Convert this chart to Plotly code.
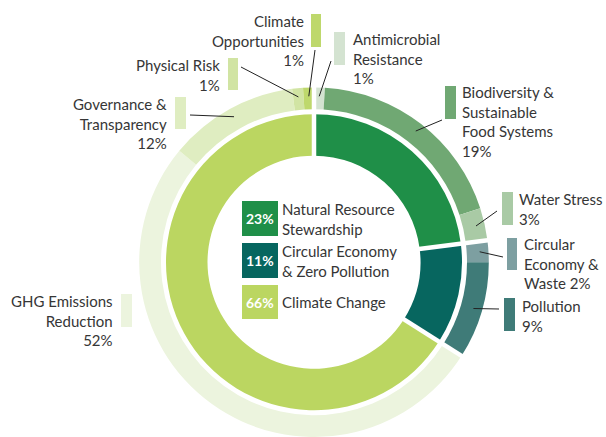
import math
import plotly.graph_objects as go

# ---------------- data ----------------
inner_labels = ["Natural Resource<br>Stewardship", "Circular Economy<br>& Zero Pollution", "Climate Change"]
inner_values = [23, 11, 66]
inner_colors = ["#1f8f48", "#07665f", "#bbd661"]

outer_labels = ["Antimicrobial<br>Resistance<br>", "Biodiversity &<br>Sustainable<br>Food Systems<br>",
                "Water Stress<br>", "Circular<br>Economy &<br>Waste ", "Pollution<br>",
                "GHG Emissions<br>Reduction<br>", "Governance &<br>Transparency<br>",
                "Physical Risk<br>", "Climate<br>Opportunities<br>"]
outer_values = [1, 19, 3, 2, 9, 52, 12, 1, 1]
outer_colors = ["#d4e3d1", "#70a873", "#a9caa5", "#7d9fa1", "#3f7b78",
                "#ecf4de", "#dfedc1", "#d1e4a3", "#bed86c"]

# ---------------- layout helpers ----------------
W, H = 606, 437
CX, CY = 314, 262.2          # centre in px (from top-left)
R_OUT = 174.8
R_IN = 148

def px(x):
    return x / W

def py(y):
    return 1 - y / H

fig = go.Figure()

# outer ring
fig.add_trace(go.Pie(
    values=outer_values, labels=[l.replace("<br>", " ") for l in outer_labels],
    marker=dict(colors=outer_colors, line=dict(width=0)),
    hole=153 / R_OUT, sort=False, direction="clockwise", rotation=0,
    textinfo="none", hoverinfo="skip", showlegend=False,
    domain=dict(x=[px(CX - 176), px(CX + 176)], y=[0, 2 * R_OUT / H]),
))
# inner ring
fig.add_trace(go.Pie(
    values=inner_values, labels=[l.replace("<br>", " ") for l in inner_labels],
    marker=dict(colors=inner_colors, line=dict(width=0)),
    hole=106.5 / R_IN, sort=False, direction="clockwise", rotation=0,
    textinfo="none", hoverinfo="skip", showlegend=False,
    domain=dict(x=[px(CX - R_IN), px(CX + R_IN)],
                y=[(H - CY - R_IN) / H, (H - CY + R_IN) / H]),
))

shapes = []
annotations = []
FONT = "Lato, 'Noto Sans', sans-serif"
TXT = "#363636"
FS = 15

# white gaps at group boundaries (from cumulative inner values)
tot = sum(inner_values)
cum = 0
for v in inner_values:
    a = 2 * math.pi * cum / tot
    x0, y0 = CX + 100 * math.sin(a), CY - 100 * math.cos(a)
    x1, y1 = CX + 185 * math.sin(a), CY - 185 * math.cos(a)
    shapes.append(dict(type="line", xref="paper", yref="paper",
                       x0=px(x0), y0=py(y0), x1=px(x1), y1=py(y1),
                       line=dict(color="white", width=4.5)))
    cum += v

# outer labels: rect box, text anchor, leader end (layout positions in px)
rects = [(334, 32, 345, 65), (445, 86, 456, 119), (502, 192, 513, 225),
         (507, 238, 517, 270), (504, 298, 515, 331), (121, 294, 132, 327),
         (175, 97, 186, 129), (228, 58, 238, 90), (311, 14, 321, 47)]
text_pos = [(351, 58.5, "left"), (460, 121.5, "left"), (517, 209, "left"),
            (522, 263.5, "left"), (520, 315.5, "left"), (115, 320, "right"),
            (169, 123.5, "right"), (222, 75, "right"), (306, 40.5, "right")]
leader_end = [(331, 61), (442, 120), (497, 211), (503, 257), (499, 309), None,
              (190, 115), (241, 67), (315, 50)]

otot = sum(outer_values)
cum = 0
for i, v in enumerate(outer_values):
    mid = 2 * math.pi * (cum + v / 2) / otot
    cum += v
    x0, y0, x1, y1 = rects[i]
    shapes.append(dict(type="rect", xref="paper", yref="paper",
                       x0=px(x0), y0=py(y1), x1=px(x1), y1=py(y0),
                       fillcolor=outer_colors[i], line=dict(width=0)))
    tx, ty, side = text_pos[i]
    annotations.append(dict(xref="paper", yref="paper", x=px(tx), y=py(ty),
                            xanchor=side, yanchor="middle", align=side,
                            text=f"{outer_labels[i]}{v}%", showarrow=False,
                            font=dict(family=FONT, size=FS, color=TXT)))
    if leader_end[i] is not None:
        r = 166
        sx, sy = CX + r * math.sin(mid), CY - r * math.cos(mid)
        ex, ey = leader_end[i]
        shapes.append(dict(type="line", xref="paper", yref="paper",
                           x0=px(sx), y0=py(sy), x1=px(ex), y1=py(ey),
                           line=dict(color="#222222", width=1)))

# centre legend
boxes = [(242, 201, 278, 236), (242, 243, 278, 278), (242, 285, 278, 319)]
for i, v in enumerate(inner_values):
    x0, y0, x1, y1 = boxes[i]
    shapes.append(dict(type="rect", xref="paper", yref="paper",
                       x0=px(x0), y0=py(y1), x1=px(x1), y1=py(y0),
                       fillcolor=inner_colors[i], line=dict(width=0)))
    annotations.append(dict(xref="paper", yref="paper", x=px((x0 + x1) / 2), y=py((y0 + y1) / 2),
                            xanchor="center", yanchor="middle", text=f"<b>{v}%</b>",
                            showarrow=False, font=dict(family=FONT, size=14, color="white")))
    annotations.append(dict(xref="paper", yref="paper", x=px(280), y=py((y0 + y1) / 2),
                            xanchor="left", yanchor="middle", align="left",
                            text=inner_labels[i], showarrow=False,
                            font=dict(family=FONT, size=FS, color=TXT)))

fig.update_layout(
    width=W, height=H, margin=dict(l=0, r=0, t=0, b=0),
    paper_bgcolor="white", plot_bgcolor="white",
    shapes=shapes, annotations=annotations, showlegend=False,
)

fig.write_html("out.html", config={"displayModeBar": False},
               post_script="document.body.style.margin='0';document.body.style.overflow='hidden';")
